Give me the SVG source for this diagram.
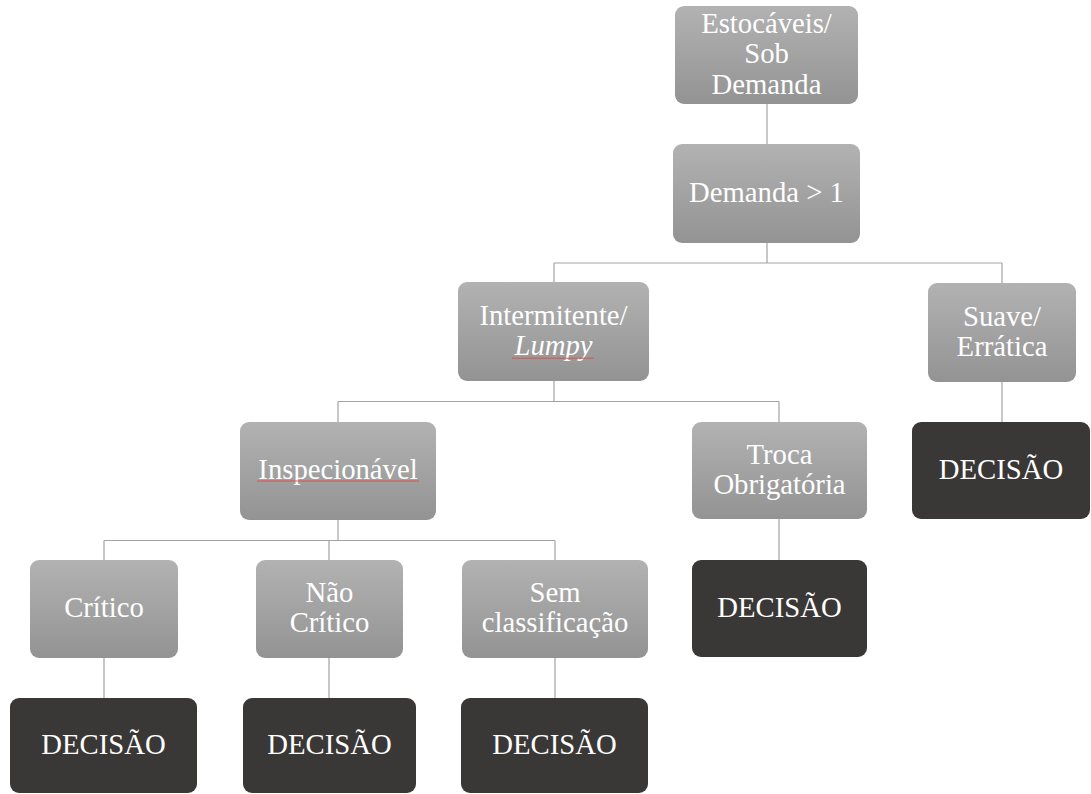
<svg xmlns="http://www.w3.org/2000/svg" width="1091" height="794" viewBox="0 0 1091 794">
  <defs>
    <linearGradient id="gradCat" x1="0" y1="0" x2="0" y2="1">
      <stop offset="0" stop-color="#b2b2b2"/>
      <stop offset="1" stop-color="#939393"/>
    </linearGradient>
    <style>
      .cat { fill: url(#gradCat); }
      .dec { fill: #3a3836; }
      .lbl { font-family: "Liberation Serif", "Times New Roman", serif; font-size: 28.7px; fill: #ffffff; text-anchor: middle; }
      .it { font-style: italic; }
      .wire { stroke: #a3a3a3; stroke-width: 1.2; fill: none; }
      .spell { stroke: #e0504c; stroke-width: 1; fill: none; }
    </style>
  </defs>
  <rect width="1091" height="794" fill="#ffffff"/>

  <!-- connectors -->
  <g id="connectors" class="wire">
    <path d="M767 104 V144"/>
    <path d="M767 243 V263 M554 263 H1002 M554 263 V282 M1002 263 V283"/>
    <path d="M554 381 V401.5 M338 401.5 H779 M338 401.5 V422 M779 401.5 V422"/>
    <path d="M1002 382 V422"/>
    <path d="M338 520 V540.5 M104 540.5 H555 M104 540.5 V560 M329 540.5 V560 M555 540.5 V560"/>
    <path d="M779 519 V560"/>
    <path d="M104 658 V698 M329 658 V698 M555 658 V698"/>
  </g>

  <!-- root -->
  <g id="node-estocaveis">
    <rect class="cat" x="675" y="6" width="183" height="98" rx="9"/>
    <text class="lbl" x="766.5" y="33.2">Estocáveis/</text>
    <text class="lbl" x="766.5" y="63.4">Sob</text>
    <text class="lbl" x="766.5" y="93.6">Demanda</text>
  </g>

  <g id="node-demanda">
    <rect class="cat" x="673" y="144" width="187" height="99" rx="9"/>
    <text class="lbl" x="766.5" y="201.7">Demanda &gt; 1</text>
  </g>

  <g id="node-intermitente">
    <rect class="cat" x="458" y="282" width="191" height="99" rx="9"/>
    <text class="lbl" x="553.5" y="325">Intermitente/</text>
    <text class="lbl it" x="553.5" y="355">Lumpy</text>
    <path class="spell" d="M512 358.2 H594"/>
  </g>

  <g id="node-suave">
    <rect class="cat" x="928" y="283" width="148" height="99" rx="9"/>
    <text class="lbl" x="1002" y="325.5">Suave/</text>
    <text class="lbl" x="1002" y="355.7">Errática</text>
  </g>

  <g id="node-inspecionavel">
    <rect class="cat" x="240" y="422" width="196" height="98" rx="9"/>
    <text class="lbl" x="338" y="478.5">Inspecionável</text>
    <path class="spell" d="M257 481 H419"/>
  </g>

  <g id="node-troca">
    <rect class="cat" x="692" y="422" width="175" height="97" rx="9"/>
    <text class="lbl" x="779.5" y="463.5">Troca</text>
    <text class="lbl" x="779.5" y="493.7">Obrigatória</text>
  </g>

  <g id="node-decisao-suave">
    <rect class="dec" x="912" y="422" width="178" height="97" rx="9"/>
    <text class="lbl" x="1001" y="478.7">DECISÃO</text>
  </g>

  <g id="node-critico">
    <rect class="cat" x="30" y="560" width="148" height="98" rx="9"/>
    <text class="lbl" x="104" y="617.2">Crítico</text>
  </g>

  <g id="node-nao-critico">
    <rect class="cat" x="256" y="560" width="147" height="98" rx="9"/>
    <text class="lbl" x="329.5" y="602.2">Não</text>
    <text class="lbl" x="329.5" y="632.2">Crítico</text>
  </g>

  <g id="node-sem-classificacao">
    <rect class="cat" x="462" y="560" width="186" height="98" rx="9"/>
    <text class="lbl" x="555" y="602.2">Sem</text>
    <text class="lbl" x="555" y="632.2">classificação</text>
  </g>

  <g id="node-decisao-troca">
    <rect class="dec" x="692" y="560" width="175" height="97" rx="9"/>
    <text class="lbl" x="779.5" y="616.7">DECISÃO</text>
  </g>

  <g id="node-decisao-critico">
    <rect class="dec" x="10" y="698" width="187" height="95" rx="9"/>
    <text class="lbl" x="103.5" y="753.7">DECISÃO</text>
  </g>

  <g id="node-decisao-nao-critico">
    <rect class="dec" x="243" y="698" width="173" height="95" rx="9"/>
    <text class="lbl" x="329.5" y="753.7">DECISÃO</text>
  </g>

  <g id="node-decisao-sem">
    <rect class="dec" x="461" y="698" width="187" height="95" rx="9"/>
    <text class="lbl" x="554.5" y="753.7">DECISÃO</text>
  </g>
</svg>
